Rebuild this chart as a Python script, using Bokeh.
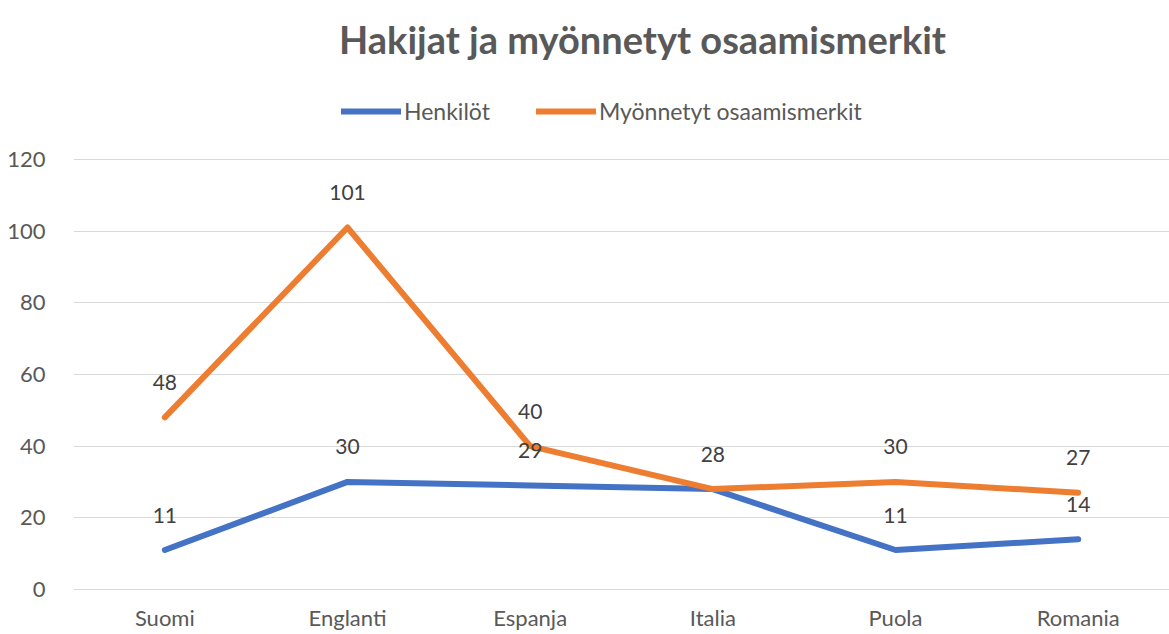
from bokeh.plotting import figure
from bokeh.models import FactorRange, Range1d, FixedTicker, Label, Legend, LegendItem, ColumnDataSource
from bokeh.embed import file_html
from bokeh.resources import INLINE
from bokeh.core.properties import value

categories = ["Suomi", "Englanti", "Espanja", "Italia", "Puola", "Romania"]
henkilot = [11, 30, 29, 28, 11, 14]
merkit = [48, 101, 40, 28, 30, 27]
series_names = ["Henkilöt", "Myönnetyt osaamismerkit"]
title_text = "Hakijat ja myönnetyt osaamismerkit"
y_ticks = [0, 20, 40, 60, 80, 100, 120]

FONT = "Lato"
GRAY = "#595959"
BLUE = "#4472C4"
ORANGE = "#ED7D31"

PX_PER_UNIT = 430 / 120.0
FRAME_H = 590
y_start = -0.3
y_end = y_start + FRAME_H / PX_PER_UNIT

p = figure(width=1169, height=634, x_range=FactorRange(factors=categories, range_padding=0),
           y_range=Range1d(y_start, y_end), output_backend="svg", toolbar_location=None,
           min_border_left=73, min_border_right=0, min_border_top=0, min_border_bottom=634 - FRAME_H)
p.outline_line_color = None
p.background_fill_color = "white"
p.border_fill_color = "white"

p.yaxis.ticker = FixedTicker(ticks=y_ticks)
p.xgrid.grid_line_color = None
p.ygrid.grid_line_color = "#d9d9d9"
p.ygrid.grid_line_width = 1
for ax in (p.xaxis, p.yaxis):
    ax.axis_line_color = None
    ax.major_tick_line_color = None
    ax.minor_tick_line_color = None
    ax.major_label_text_font = FONT
    ax.major_label_text_font_size = "22px"
    ax.major_label_text_color = GRAY
p.xaxis.major_label_standoff = 7
p.yaxis.major_label_standoff = 22

# one label is hidden where both series share the same value (labels coincide)
h_labels = ["" if h == m else str(h) for h, m in zip(henkilot, merkit)]
m_labels = [str(v) for v in merkit]
src = ColumnDataSource(dict(cat=categories, h=henkilot, m=merkit, hl=h_labels, ml=m_labels))

r1 = p.line("cat", "h", source=src, line_color=BLUE, line_width=6, line_cap="round", line_join="round")
r2 = p.line("cat", "m", source=src, line_color=ORANGE, line_width=6, line_cap="round", line_join="round")

for col in ("hl", "ml"):
    ycol = "h" if col == "hl" else "m"
    p.text("cat", ycol, text=col, source=src, text_align="center", text_baseline="middle",
           y_offset=-35, text_font=value(FONT), text_font_size="21px", text_color="#404040")

p.add_layout(Label(x=3, y=153.7, x_offset=21, text=title_text, text_align="center",
                   text_baseline="middle", text_font=FONT, text_font_size="38px",
                   text_font_style="bold", text_color=GRAY))

legend = Legend(items=[LegendItem(label=series_names[0], renderers=[r1]),
                       LegendItem(label=series_names[1], renderers=[r2])],
                location=(268, 465), orientation="horizontal", border_line_color=None,
                background_fill_alpha=0, padding=0, margin=0, spacing=46,
                glyph_width=60, label_standoff=3,
                label_text_font=FONT, label_text_font_size="23px", label_text_color=GRAY)
p.add_layout(legend, "center")

open("out.html", "w").write(file_html(p, INLINE))
